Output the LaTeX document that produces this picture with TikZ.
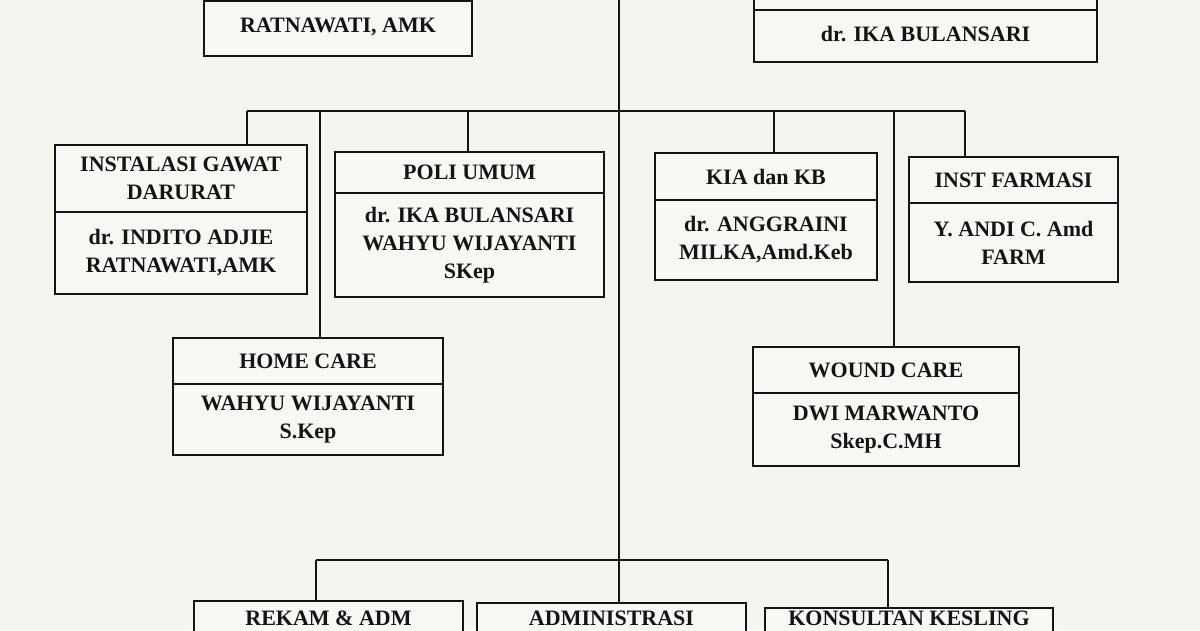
\documentclass[tikz,border=0pt]{standalone}
\usepackage{fontspec}
\setmainfont{Liberation Serif}
\definecolor{paper}{HTML}{F5F4EF}
\definecolor{boxfill}{HTML}{F8F7F3}
\definecolor{ink}{HTML}{141414}
\begin{document}
\begin{tikzpicture}[x=1pt,y=-1pt,
  part/.style={draw=ink, line width=1.8pt, fill=boxfill, inner sep=0pt, outer sep=0pt,
    align=center, font=\fontsize{22}{28}\selectfont\bfseries, text=ink, anchor=north west},
  title/.style={inner sep=0pt, font=\fontsize{22}{28}\selectfont\bfseries, text=ink, anchor=base},
  link/.style={draw=ink, line width=1.7pt}]
\useasboundingbox (0,0) rectangle (1200,630);
\fill[paper] (0,0) rectangle (1200,630);
\clip (0,0) rectangle (1200,630);

% junction points of the connectors
\coordinate (ctop) at (619,-5);
\coordinate (b1L) at (247,111);
\coordinate (b1R) at (965,111);
\coordinate (b2L) at (316,560);
\coordinate (b2R) at (888,560);
\coordinate (b2C) at (619,560);
\coordinate (dHome) at (320,111);
\coordinate (dPoli) at (468,111);
\coordinate (dKia) at (774,111);
\coordinate (dWound) at (894,111);

% top boxes (cut by the upper edge)
\node[part, minimum width=268pt, minimum height=41pt] (tlT) at (204,-40) {};
\node[part, minimum width=268pt, minimum height=55pt] (tlB) at (204,1) {\raisebox{6pt}{RATNAWATI, AMK}};
\node[part, minimum width=343pt, minimum height=50pt] (trT) at (754,-40) {};
\node[part, minimum width=343pt, minimum height=52pt] (trB) at (754,10) {\raisebox{5pt}{dr. IKA BULANSARI}};

% second row
\node[part, minimum width=252pt, minimum height=67pt] (igdT) at (55,145) {INSTALASI GAWAT\\DARURAT};
\node[part, minimum width=252pt, minimum height=82pt] (igdB) at (55,212) {dr. INDITO ADJIE\\RATNAWATI,AMK};
\node[part, minimum width=269pt, minimum height=41pt] (poliT) at (335,152) {POLI UMUM};
\node[part, minimum width=269pt, minimum height=104pt] (poliB) at (335,193) {dr. IKA BULANSARI\\WAHYU WIJAYANTI\\SKep};
\node[part, minimum width=222pt, minimum height=47pt] (kiaT) at (655,153) {KIA dan KB};
\node[part, minimum width=222pt, minimum height=80pt] (kiaB) at (655,200) {dr. ANGGRAINI\\MILKA,Amd.Keb};
\node[part, minimum width=209pt, minimum height=46pt] (farT) at (909,157) {INST FARMASI};
\node[part, minimum width=209pt, minimum height=79pt] (farB) at (909,203) {Y. ANDI C. Amd\\FARM};

% third row
\node[part, minimum width=270pt, minimum height=46pt] (homeT) at (173,338) {HOME CARE};
\node[part, minimum width=270pt, minimum height=71pt] (homeB) at (173,384) {WAHYU WIJAYANTI\\S.Kep};
\node[part, minimum width=266pt, minimum height=46pt] (woundT) at (753,347) {WOUND CARE};
\node[part, minimum width=266pt, minimum height=73pt] (woundB) at (753,393) {DWI MARWANTO\\Skep.C.MH};

% bottom row (cut by the lower edge)
\node[part, minimum width=269pt, minimum height=60pt] (rekT) at (194,601) {};
\node[part, minimum width=269pt, minimum height=60pt] (admT) at (477,603) {};
\node[part, minimum width=288pt, minimum height=60pt] (konT) at (765,608) {};
\node[title] (rekX) at (rekT.north |- 0,625) {REKAM \& ADM};
\node[title] (admX) at (admT.north |- 0,625) {ADMINISTRASI};
\node[title] (konX) at (konT.north |- 0,625) {KONSULTAN KESLING};

% connectors
\draw[link] (ctop) -- (b2C) -- (b2C |- admT.north);
\draw[link] (b1L) -- (b1R);
\draw[link] (b1L) -- (b1L |- igdT.north);
\draw[link] (dHome) -- (dHome |- homeT.north);
\draw[link] (dPoli) -- (dPoli |- poliT.north);
\draw[link] (dKia) -- (dKia |- kiaT.north);
\draw[link] (dWound) -- (dWound |- woundT.north);
\draw[link] (b1R) -- (b1R |- farT.north);
\draw[link] (b2L) -- (b2R);
\draw[link] (b2L) -- (b2L |- rekT.north);
\draw[link] (b2R) -- (b2R |- konT.north);
\end{tikzpicture}
\end{document}
